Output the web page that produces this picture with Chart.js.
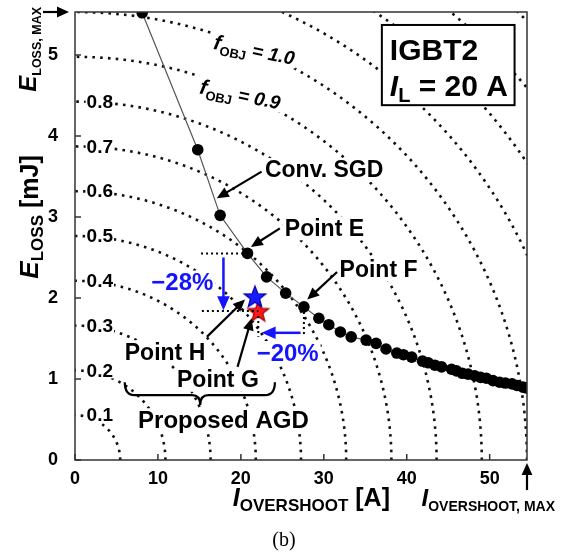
<!DOCTYPE html>
<html>
<head>
<meta charset="utf-8">
<script src="https://cdn.jsdelivr.net/npm/chart.js@4.4.1/dist/chart.umd.min.js"></script>
<style>
  html, body { margin: 0; padding: 0; background: #fff; }
</style>
</head>
<body>
<canvas id="chart" width="565" height="559"></canvas>
<script>
// axis limits
const I_MAX = 54.5;
const E_MAX = 5.53;

const xTicks = [0, 10, 20, 30, 40, 50];
const yTicks = [0, 1, 2, 3, 4, 5];

// contour levels of f_OBJ
const fLevels = [0.1, 0.2, 0.3, 0.4, 0.5, 0.6, 0.7, 0.8, 0.9, 1.0, 1.1, 1.2, 1.3, 1.4];
const fLabelLevels = [0.1, 0.2, 0.3, 0.4, 0.5, 0.6, 0.7, 0.8];

// conventional SGD sweep
const sgdI = [8.1, 14.8, 17.5, 20.8, 23.1, 25.4, 27.6, 29.4, 30.6, 32.0, 33.3, 35.1, 36.3, 37.5,
  38.8, 39.6, 40.6, 41.9, 42.6, 43.4, 44.2, 45.4, 46.0, 46.7, 47.4, 48.2, 48.9, 49.6, 50.4,
  51.2, 51.9, 52.7, 53.3, 54.0, 54.4];
const sgdE = [5.52, 3.83, 3.02, 2.55, 2.26, 2.06, 1.89, 1.75, 1.67, 1.58, 1.52, 1.48, 1.44, 1.37,
  1.32, 1.30, 1.27, 1.22, 1.20, 1.17, 1.15, 1.12, 1.10, 1.07, 1.06, 1.04, 1.02, 1.01, 0.98,
  0.96, 0.95, 0.94, 0.92, 0.90, 0.89];

const pointE = [20.8, 2.55];
const pointF = [27.6, 1.89];
const pointG = [22.1, 1.84];
const pointH = [21.7, 2.02];

function contour(f) {
  const pts = [];
  for (let d = 0; d <= 90; d += 1) {
    const a = d * Math.PI / 180;
    pts.push({ x: f * I_MAX * Math.cos(a), y: f * E_MAX * Math.sin(a) });
  }
  return pts;
}

function makeStar(size, fill, stroke) {
  const c = document.createElement('canvas');
  c.width = size; c.height = size;
  const g = c.getContext('2d');
  const r = size / 2 - 1.5, r2 = r * 0.42, cx = size / 2, cy = size / 2 + r * 0.1;
  g.beginPath();
  for (let i = 0; i < 10; i++) {
    const a = -Math.PI / 2 + i * Math.PI / 5;
    const rr = i % 2 ? r2 : r;
    g.lineTo(cx + rr * Math.cos(a), cy + rr * Math.sin(a));
  }
  g.closePath();
  g.fillStyle = fill;
  g.fill();
  g.lineWidth = 1.2;
  g.strokeStyle = stroke;
  g.stroke();
  return c;
}

const datasets = fLevels.map(f => ({
  data: contour(f),
  showLine: true,
  borderColor: '#111',
  borderWidth: 2.6,
  borderDash: [2.6, 5.2],
  pointRadius: 0,
  tension: 0,
  order: 5
}));

datasets.push({
  data: sgdI.map((v, i) => ({ x: v, y: sgdE[i] })),
  showLine: true,
  borderColor: '#555',
  borderWidth: 1.2,
  pointRadius: 5.8,
  pointBackgroundColor: '#000',
  pointBorderWidth: 0,
  order: 1
});
datasets.push({
  data: [{ x: pointH[0], y: pointH[1] }],
  pointStyle: makeStar(26, '#1a1aff', '#0000a0'),
  order: 0
});
datasets.push({
  data: [{ x: pointG[0], y: pointG[1] }],
  pointStyle: makeStar(25, '#ff1a1a', '#900'),
  order: 0
});

// draw a run of text pieces: [text, font, dy]
function rich(ctx, parts, x, y, align) {
  let w = 0;
  parts.forEach(p => { ctx.font = p[1]; w += ctx.measureText(p[0]).width; });
  let cx = align === 'center' ? x - w / 2 : (align === 'right' ? x - w : x);
  ctx.textAlign = 'left';
  parts.forEach(p => {
    ctx.font = p[1];
    ctx.fillText(p[0], cx, y + (p[2] || 0));
    cx += ctx.measureText(p[0]).width;
  });
  return w;
}

function arrow(ctx, x1, y1, x2, y2, color, lw, head) {
  const a = Math.atan2(y2 - y1, x2 - x1);
  ctx.save();
  ctx.strokeStyle = color; ctx.fillStyle = color; ctx.lineWidth = lw;
  ctx.beginPath();
  ctx.moveTo(x1, y1);
  ctx.lineTo(x2 - Math.cos(a) * head * 0.8, y2 - Math.sin(a) * head * 0.8);
  ctx.stroke();
  ctx.beginPath();
  ctx.moveTo(x2, y2);
  ctx.lineTo(x2 - head * Math.cos(a) + head * 0.45 * Math.sin(a), y2 - head * Math.sin(a) - head * 0.45 * Math.cos(a));
  ctx.lineTo(x2 - head * Math.cos(a) - head * 0.45 * Math.sin(a), y2 - head * Math.sin(a) + head * 0.45 * Math.cos(a));
  ctx.closePath();
  ctx.fill();
  ctx.restore();
}

function label(ctx, text, x, y, font, color) {
  ctx.font = font;
  const w = ctx.measureText(text).width;
  ctx.fillStyle = '#fff';
  ctx.fillRect(x - 2, y - 12, w + 4, 24);
  ctx.fillStyle = color || '#000';
  ctx.textBaseline = 'middle';
  ctx.textAlign = 'left';
  ctx.fillText(text, x, y + 1);
}

const annotations = {
  id: 'annotations',
  afterDatasetsDraw(chart) {
    const ctx = chart.ctx;
    const sx = chart.scales.x, sy = chart.scales.y;
    const X = v => sx.getPixelForValue(v);
    const Y = v => sy.getPixelForValue(v);
    const a = chart.chartArea;
    ctx.save();

    // frame
    ctx.strokeStyle = '#333';
    ctx.lineWidth = 1.5;
    ctx.strokeRect(a.left, a.top, a.right - a.left, a.bottom - a.top);
    // inward ticks
    ctx.beginPath();
    xTicks.forEach(v => { ctx.moveTo(X(v), a.bottom); ctx.lineTo(X(v), a.bottom - 6); });
    yTicks.forEach(v => { ctx.moveTo(a.left, Y(v)); ctx.lineTo(a.left + 6, Y(v)); });
    ctx.stroke();

    // contour level labels
    ctx.textBaseline = 'middle';
    fLabelLevels.forEach(f => {
      ctx.font = 'bold 19px Arial';
      const t = f.toFixed(1);
      const w = ctx.measureText(t).width;
      const x0 = X(1.4), y0 = Y(f * E_MAX);
      ctx.fillStyle = '#fff';
      ctx.fillRect(x0 - 1, y0 - 8, w + 2, 16);
      ctx.fillStyle = '#000';
      ctx.fillText(t, x0, y0 + 1);
    });

    // f_OBJ labels (rotated)
    [[1.0, 21.6, 5.05], [0.9, 19.9, 4.5]].forEach(r => {
      ctx.save();
      ctx.translate(X(r[1]), Y(r[2]));
      ctx.rotate(0.2);
      ctx.textBaseline = 'alphabetic';
      const parts = [['f', 'bold italic 21px Arial', 0], ['OBJ', 'bold 13px Arial', 5], [' = ' + r[0].toFixed(1), 'bold italic 19px Arial', 0]];
      let w = 0;
      parts.forEach(p => { ctx.font = p[1]; w += ctx.measureText(p[0]).width; });
      ctx.fillStyle = '#fff';
      ctx.fillRect(-w / 2 - 3, -17, w + 6, 26);
      ctx.fillStyle = '#000';
      rich(ctx, parts, 0, 6, 'center');
      ctx.restore();
    });

    // IGBT box
    const bx1 = X(37.0), by1 = Y(5.37), bx2 = X(53.0), by2 = Y(4.38);
    ctx.fillStyle = '#fff';
    ctx.fillRect(bx1, by1, bx2 - bx1, by2 - by1);
    ctx.strokeStyle = '#000';
    ctx.lineWidth = 2;
    ctx.strokeRect(bx1, by1, bx2 - bx1, by2 - by1);
    ctx.fillStyle = '#000';
    ctx.textBaseline = 'alphabetic';
    rich(ctx, [['IGBT2', 'bold 30px Arial', 0]], bx1 + 8, by1 + 35);
    rich(ctx, [['I', 'bold italic 30px Arial', 0], ['L', 'bold 20px Arial', 6], [' = 20 A', 'bold 30px Arial', 0]], bx1 + 8, by1 + 71);

    // text labels
    label(ctx, 'Conv. SGD', X(22.9), Y(3.58), 'bold 23px Arial');
    label(ctx, 'Point E', X(25.3), Y(2.86), 'bold 23px Arial');
    label(ctx, 'Point F', X(31.9), Y(2.35), 'bold 23px Arial');
    label(ctx, 'Point H', X(6.0), Y(1.33), 'bold 23px Arial');
    label(ctx, 'Point G', X(12.3), Y(0.99), 'bold 23px Arial');
    label(ctx, 'Proposed AGD', X(7.6), Y(0.49), 'bold 24px Arial');
    label(ctx, '\u221228%', X(9.2), Y(2.19), 'bold 24px Arial', '#1414ff');
    label(ctx, '\u221220%', X(21.9), Y(1.32), 'bold 24px Arial', '#1414ff');

    // black pointer arrows
    arrow(ctx, X(22.5), Y(3.56), X(17.1), Y(3.23), '#000', 2.2, 12);
    arrow(ctx, X(24.7), Y(2.86), X(21.2), Y(2.63), '#000', 2.2, 12);
    arrow(ctx, X(31.6), Y(2.32), X(28.0), Y(1.98), '#000', 2.2, 12);
    arrow(ctx, X(15.9), Y(1.52), X(20.5), Y(1.98), '#000', 2.2, 12);
    arrow(ctx, X(19.6), Y(1.15), X(21.3), Y(1.75), '#000', 2.2, 12);

    // dotted guide lines
    ctx.strokeStyle = '#000';
    ctx.lineWidth = 2;
    ctx.setLineDash([2, 3]);
    ctx.beginPath();
    ctx.moveTo(X(15.2), Y(pointE[1])); ctx.lineTo(X(pointE[0]), Y(pointE[1]));
    ctx.moveTo(X(15.3), Y(pointG[1])); ctx.lineTo(X(pointG[0]), Y(pointG[1]));
    ctx.moveTo(X(pointF[0]), Y(pointF[1]) + 5); ctx.lineTo(X(pointF[0]), Y(1.52));
    ctx.moveTo(X(pointG[0]), Y(pointG[1]) + 5); ctx.lineTo(X(pointG[0]), Y(1.52));
    ctx.stroke();
    ctx.setLineDash([]);

    // blue change arrows
    arrow(ctx, X(17.9), Y(2.50), X(17.9), Y(1.85), '#1414ff', 2.5, 14);
    arrow(ctx, X(27.2), Y(1.57), X(22.5), Y(1.57), '#1414ff', 2.5, 14);

    // brace under the proposed points
    const bl = X(6.0), br = X(24.1), bt = Y(0.96), bm = Y(0.8), bb = Y(0.68), bc = X(15.1);
    ctx.lineWidth = 2.2;
    ctx.beginPath();
    ctx.moveTo(bl, bt);
    ctx.quadraticCurveTo(bl, bm, bl + 10, bm);
    ctx.lineTo(bc - 8, bm);
    ctx.quadraticCurveTo(bc, bm, bc, bb);
    ctx.quadraticCurveTo(bc, bm, bc + 8, bm);
    ctx.lineTo(br - 10, bm);
    ctx.quadraticCurveTo(br, bm, br, bt);
    ctx.stroke();

    // axis titles
    ctx.fillStyle = '#000';
    ctx.textBaseline = 'alphabetic';
    rich(ctx, [['I', 'bold italic 25px Arial', 0], ['OVERSHOOT', 'bold 17px Arial', 5], [' [A]', 'bold 25px Arial', 0]], X(28.5), a.bottom + 46, 'center');
    rich(ctx, [['I', 'bold italic 24px Arial', 0], ['OVERSHOOT, MAX', 'bold 14px Arial', 5]], X(I_MAX) + 28, a.bottom + 46, 'right');
    arrow(ctx, X(I_MAX), a.bottom + 30, X(I_MAX), a.bottom + 3, '#000', 2.2, 12);

    ctx.save();
    ctx.translate(38, Y(3.0));
    ctx.rotate(-Math.PI / 2);
    rich(ctx, [['E', 'bold italic 26px Arial', 0], ['LOSS', 'bold 17px Arial', 5], [' [mJ]', 'bold 25px Arial', 0]], 0, 0, 'center');
    ctx.restore();

    ctx.save();
    ctx.translate(36, a.top - 5);
    ctx.rotate(-Math.PI / 2);
    rich(ctx, [['E', 'bold italic 24px Arial', 0], ['LOSS, MAX', 'bold 12.5px Arial', 5]], 0, 0, 'right');
    ctx.restore();
    arrow(ctx, 43, a.top, a.left - 6, a.top, '#000', 2.2, 12);

    ctx.font = '20px "Liberation Serif", "Times New Roman", serif';
    ctx.textAlign = 'center';
    ctx.fillText('(b)', X(25.2), a.bottom + 86);

    ctx.restore();
  }
};

new Chart(document.getElementById('chart'), {
  type: 'scatter',
  data: { datasets: datasets },
  options: {
    responsive: false,
    animation: false,
    devicePixelRatio: 1,
    layout: { padding: { left: 0, top: 12, right: 38, bottom: 59 } },
    plugins: { legend: { display: false }, tooltip: { enabled: false } },
    scales: {
      x: {
        type: 'linear', min: 0, max: I_MAX,
        afterBuildTicks: s => { s.ticks = xTicks.map(v => ({ value: v })); },
        afterFit: s => { s.height = 40; s.paddingLeft = 0; s.paddingRight = 0; },
        grid: { display: false },
        border: { display: false },
        ticks: { color: '#000', font: { family: 'Arial', size: 18, weight: 'bold' }, padding: 0, maxRotation: 0 }
      },
      y: {
        type: 'linear', min: 0, max: E_MAX,
        afterBuildTicks: s => { s.ticks = yTicks.map(v => ({ value: v })); },
        afterFit: s => { s.width = 75; s.paddingTop = 0; s.paddingBottom = 0; },
        grid: { display: false },
        border: { display: false },
        ticks: { color: '#000', font: { family: 'Arial', size: 18, weight: 'bold' }, padding: 9 }
      }
    }
  },
  plugins: [annotations]
});
</script>
</body>
</html>
